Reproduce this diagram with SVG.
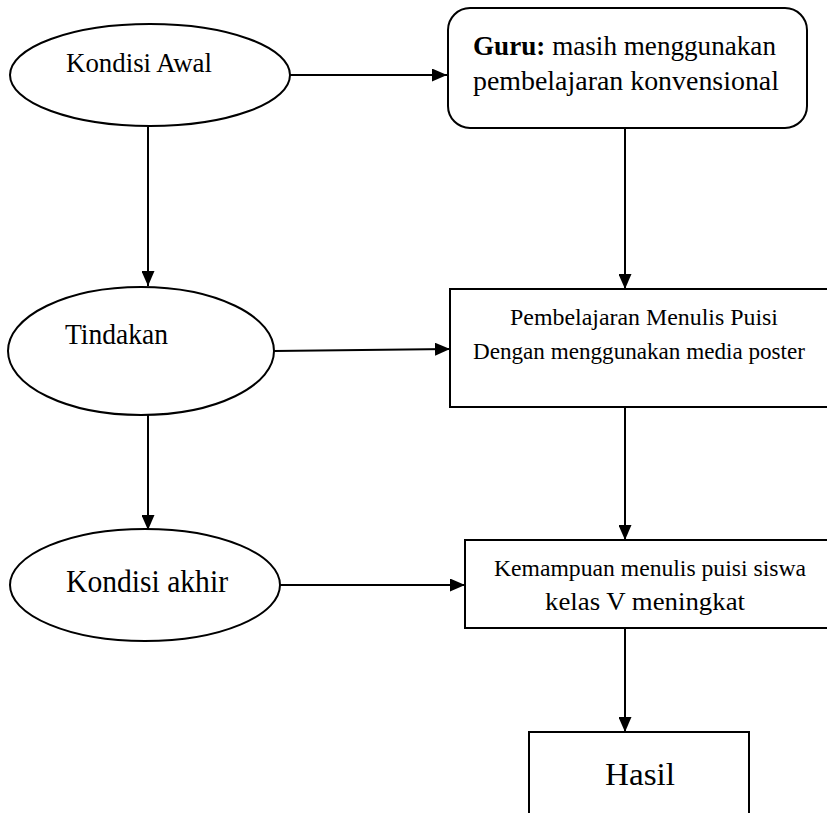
<svg xmlns="http://www.w3.org/2000/svg" width="827" height="813" viewBox="0 0 827 813">
<style>
.shape{fill:#fff;stroke:#000;stroke-width:2}
.line{fill:none;stroke:#000;stroke-width:2}
text{font-family:"Liberation Serif","Times New Roman",serif;fill:#000}
</style>
<defs>
<marker id="ah" markerWidth="15" markerHeight="13" refX="15" refY="6.5" orient="auto" markerUnits="userSpaceOnUse">
<path d="M0,0 L15,6.5 L0,13 Z" fill="#000"/>
</marker>
</defs>
<rect width="827" height="813" fill="#fff"/>
<g id="connectors">
<line class="line" x1="290" y1="75" x2="447" y2="75" marker-end="url(#ah)"/>
<line class="line" x1="148" y1="127" x2="148" y2="286" marker-end="url(#ah)"/>
<line class="line" x1="625" y1="128" x2="625" y2="289" marker-end="url(#ah)"/>
<line class="line" x1="274" y1="351" x2="450" y2="349" marker-end="url(#ah)"/>
<line class="line" x1="148" y1="414" x2="148" y2="530" marker-end="url(#ah)"/>
<line class="line" x1="625" y1="407" x2="625" y2="540" marker-end="url(#ah)"/>
<line class="line" x1="280" y1="585" x2="465" y2="585" marker-end="url(#ah)"/>
<line class="line" x1="625" y1="628" x2="625" y2="732" marker-end="url(#ah)"/>
</g>
<g id="kondisi-awal">
<ellipse class="shape" cx="150" cy="75" rx="140" ry="51"/>
<text x="66" y="72" font-size="28" textLength="146" lengthAdjust="spacingAndGlyphs">Kondisi Awal</text>
</g>
<g id="guru">
<rect class="shape" x="448" y="8" width="359" height="120" rx="22"/>
<text x="473" y="55" font-size="28" textLength="303" lengthAdjust="spacingAndGlyphs"><tspan font-weight="bold">Guru:</tspan> masih menggunakan</text>
<text x="473" y="90" font-size="28" textLength="306" lengthAdjust="spacingAndGlyphs">pembelajaran konvensional</text>
</g>
<g id="tindakan">
<ellipse class="shape" cx="141" cy="351" rx="133" ry="64"/>
<text x="65" y="344" font-size="29" textLength="103" lengthAdjust="spacingAndGlyphs">Tindakan</text>
</g>
<g id="pembelajaran">
<path class="shape" d="M827,289 H450 V407 H827"/>
<text x="510" y="325" font-size="24" textLength="268" lengthAdjust="spacingAndGlyphs">Pembelajaran Menulis Puisi</text>
<text x="473" y="359" font-size="23" textLength="332" lengthAdjust="spacingAndGlyphs">Dengan menggunakan media poster</text>
</g>
<g id="kondisi-akhir">
<ellipse class="shape" cx="145" cy="585" rx="135" ry="56"/>
<text x="66" y="592" font-size="32" textLength="162" lengthAdjust="spacingAndGlyphs">Kondisi akhir</text>
</g>
<g id="kemampuan">
<path class="shape" d="M827,540 H465 V628 H827"/>
<text x="494" y="576" font-size="24" textLength="312" lengthAdjust="spacingAndGlyphs">Kemampuan menulis puisi siswa</text>
<text x="545" y="610" font-size="25" textLength="200" lengthAdjust="spacingAndGlyphs">kelas V meningkat</text>
</g>
<g id="hasil">
<path class="shape" d="M529,813 V732 H749 V813"/>
<text x="605" y="785" font-size="32" textLength="70" lengthAdjust="spacingAndGlyphs">Hasil</text>
</g>
</svg>
